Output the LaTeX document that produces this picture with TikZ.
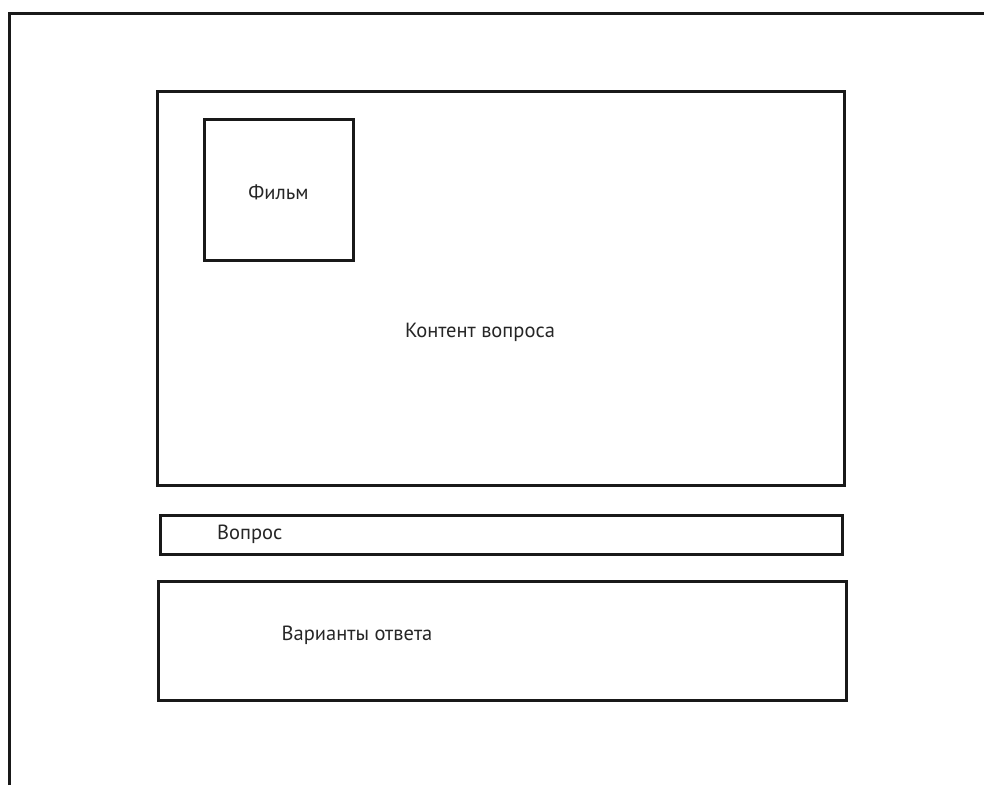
\documentclass[tikz,border=0pt]{standalone}
\usepackage{fontspec}
\setmainfont{PT Sans}
\usepackage{tikz}
\usetikzlibrary{positioning}

\begin{document}
\begin{tikzpicture}[
    x=1pt, y=-1pt,
    frame/.style={draw=black!90, line width=3pt},
    box/.style={draw=black!90, line width=3pt, inner sep=0pt},
    label/.style={font=\fontsize{20.5}{24}\selectfont, text=black!85, inner sep=0pt}
]

% Page size
\useasboundingbox (0,0) rectangle (984,785);

% Outer frame (only top and left edges visible)
\draw[frame] (9,785) -- (9,13) -- (984,13);

% Content area
\node[box, minimum width=687pt, minimum height=394pt] (content) at (500.5,288) {};
\node[label] (contentlabel) at (480,332) {Контент вопроса};

% Film thumbnail
\node[box, minimum width=149pt, minimum height=141pt] (film) at (278.5,189.5) {};
\node[label] (filmlabel) at (278.5,192) {Фильм};

% Question bar
\node[box, minimum width=682pt, minimum height=39pt] (question) at (501,534.5) {};
\node[label, anchor=west] (questionlabel) at (217,534) {Вопрос};

% Answer options
\node[box, minimum width=688pt, minimum height=119pt] (answers) at (502,640.5) {};
\node[label] (answerslabel) at (357,635) {Варианты ответа};

\end{tikzpicture}
\end{document}
